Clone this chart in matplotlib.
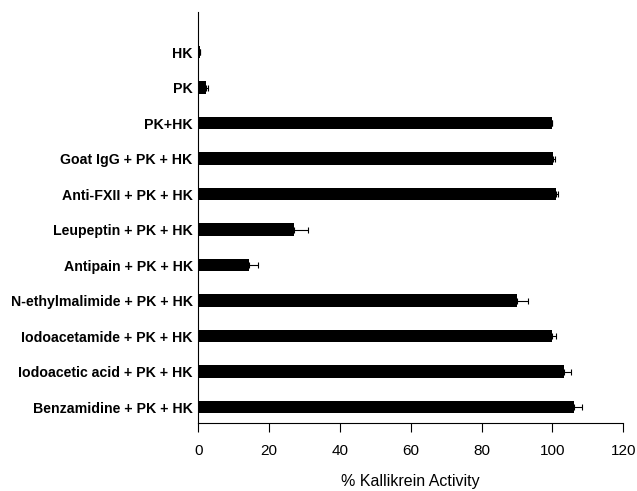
import numpy as np
import matplotlib.pyplot as plt

plt.rcParams['font.family'] = ['Liberation Sans', 'DejaVu Sans']

# treatments, top to bottom
labels = ['HK', 'PK', 'PK+HK', 'Goat IgG + PK + HK', 'Anti-FXII + PK + HK',
          'Leupeptin + PK + HK', 'Antipain + PK + HK', 'N-ethylmalimide + PK + HK',
          'Iodoacetamide + PK + HK', 'Iodoacetic acid + PK + HK',
          'Benzamidine + PK + HK']
activity = [0.4, 2.2, 100.0, 100.2, 101.0, 27.1, 14.4, 89.9, 99.9, 103.3, 106.0]
sem = [0.0, 0.6, 0.0, 0.5, 0.6, 4.0, 2.4, 3.1, 1.0, 1.8, 2.2]

fig = plt.figure(figsize=(6.37, 4.91), dpi=100)
ax = fig.add_axes([0.3113, 0.139, 0.6672, 0.8367])

y = np.arange(len(labels))[::-1]
ax.barh(y, activity, height=0.35, color='black',
        xerr=[np.zeros(len(sem)), sem],
        error_kw=dict(ecolor='black', elinewidth=0.8, capsize=2.5, capthick=0.8))

ax.set_xlim(0, 120)
ax.set_ylim(-0.44, len(labels) - 1 + 1.13)
ax.set_xticks(np.arange(0, 121, 20))
ax.set_yticks(y)
ax.set_yticklabels(labels, fontsize=10.2, fontweight='bold')
ax.tick_params(axis='y', length=0, pad=4)
ax.tick_params(axis='x', length=6.5, width=0.8, pad=9, labelsize=11)
ax.spines['top'].set_visible(False)
ax.spines['right'].set_visible(False)
ax.set_xlabel('% Kallikrein Activity', fontsize=11.5, labelpad=11)

fig.savefig('out.png', dpi=100)
